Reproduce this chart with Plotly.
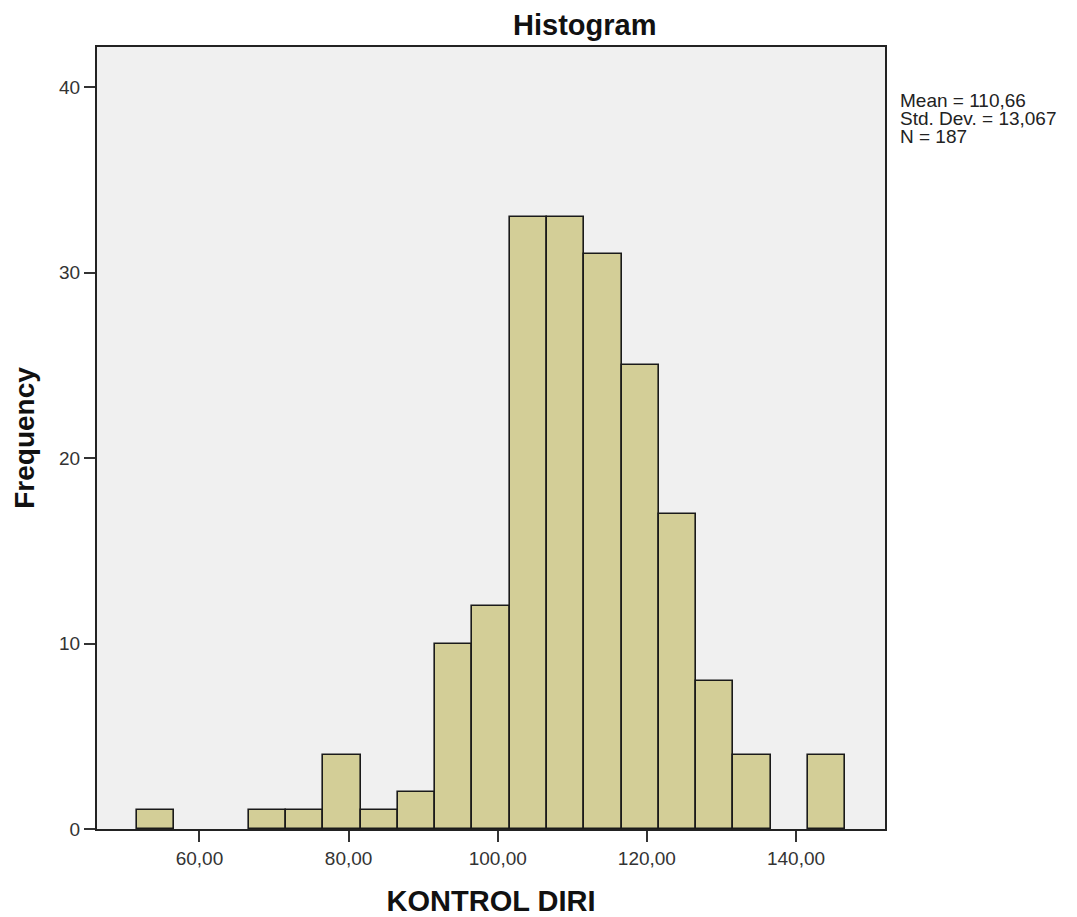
import plotly.graph_objects as go

# Data
bin_start = 51.6
bin_width = 5.0
counts = [1, 0, 0, 1, 1, 4, 1, 2, 10, 12, 33, 33, 31, 25, 17, 8, 4, 0, 4]
x_tick_vals = [60, 80, 100, 120, 140]
x_tick_text = ["60,00", "80,00", "100,00", "120,00", "140,00"]
y_tick_vals = [0, 10, 20, 30, 40]
stats_lines = ["Mean = 110,66", "Std. Dev. = 13,067", "N = 187"]

centers = [bin_start + bin_width * (i + 0.5) for i in range(len(counts))]
bar_heights = [c if c > 0 else None for c in counts]

FONT = "Liberation Sans, Arial, sans-serif"

fig = go.Figure()
fig.add_trace(go.Bar(
    x=centers,
    y=bar_heights,
    width=[bin_width] * len(counts),
    marker=dict(color="#D3CE97", line=dict(color="#1a1a1a", width=1.6)),
    showlegend=False,
    hoverinfo="x+y",
))

fig.update_layout(
    width=1069, height=909,
    margin=dict(l=89, r=192, t=39, b=88),
    paper_bgcolor="white",
    plot_bgcolor="#F0F0F0",
    font=dict(family=FONT, size=19, color="#222222"),
    title=dict(text="<b>Histogram</b>", x=0.619, xref="paper", xanchor="center",
               y=1, yref="container", yanchor="top", pad=dict(t=7),
               font=dict(family=FONT, size=29, color="#111111")),
    bargap=0,
)

fig.update_xaxes(
    range=[46.26, 151.93],
    tickvals=x_tick_vals, ticktext=x_tick_text,
    ticks="outside", ticklen=11, tickwidth=2, tickcolor="#333333",
    showgrid=False, zeroline=False, automargin=False,
    showline=True, linecolor="#222222", linewidth=2, mirror=True,
    title=dict(text="<b>KONTROL DIRI</b>", font=dict(family=FONT, size=29, color="#111111"), standoff=23),
    tickfont=dict(family=FONT, size=19, color="#333333"),
)
fig.update_yaxes(
    range=[0, 42.16],
    tickvals=y_tick_vals,
    ticks="outside", ticklen=11, tickwidth=2, tickcolor="#333333",
    showgrid=False, zeroline=False, automargin=False,
    showline=True, linecolor="#222222", linewidth=2, mirror=True,
    title=dict(text="<b>Frequency</b>", font=dict(family=FONT, size=28, color="#111111"), standoff=16),
    tickfont=dict(family=FONT, size=19, color="#333333"),
)

stat_y = [0.932, 0.908, 0.885]
for line, yy in zip(stats_lines, stat_y):
    fig.add_annotation(
        x=1.0165, y=yy, xref="paper", yref="paper",
        xanchor="left", yanchor="middle", align="left", showarrow=False,
        text=line,
        font=dict(family=FONT, size=19, color="#222222"),
    )

fig.write_html("out.html")
